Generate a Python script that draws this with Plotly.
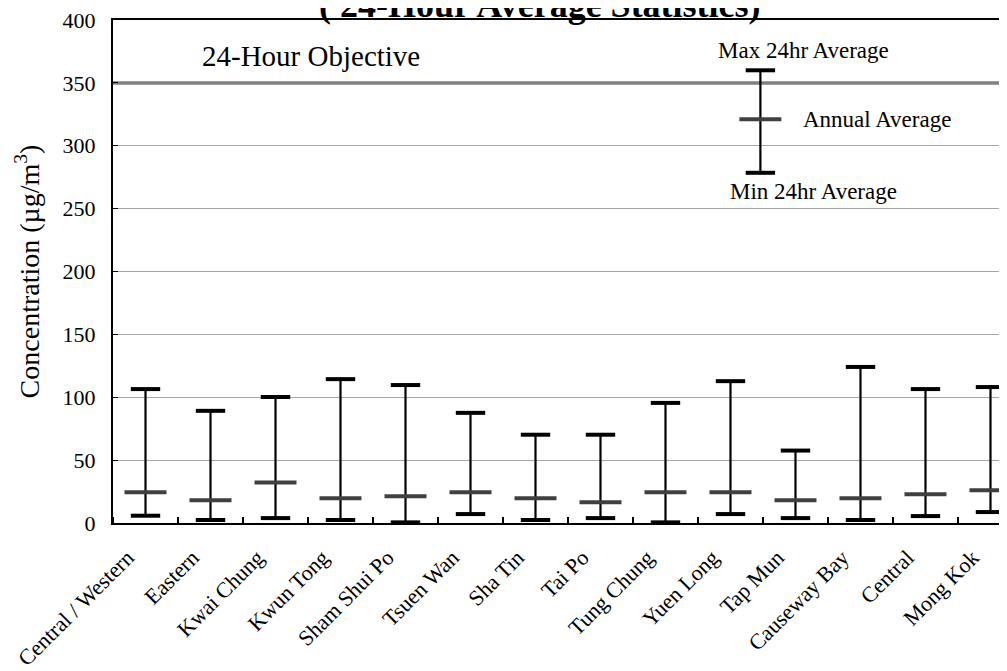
import plotly.graph_objects as go

stations = ["Central / Western", "Eastern", "Kwai Chung", "Kwun Tong", "Sham Shui Po",
            "Tsuen Wan", "Sha Tin", "Tai Po", "Tung Chung", "Yuen Long", "Tap Mun",
            "Causeway Bay", "Central", "Mong Kok"]
max_24hr = [106.5, 89.2, 100.2, 114.4, 109.7, 87.6, 70.2, 70.2, 95.5, 112.8, 57.6, 124.1, 106.5, 108.1]
annual_avg = [24.5, 18.1, 32.3, 19.7, 21.3, 24.5, 19.7, 16.6, 24.5, 24.5, 18.1, 19.7, 22.9, 26.0]
min_24hr = [5.8, 2.4, 3.9, 2.4, 0.5, 7.1, 2.4, 3.9, 0.5, 7.1, 3.9, 2.4, 5.5, 8.7]

objective_value = 350
objective_label = "24-Hour Objective"

legend_max = 360
legend_avg = 321
legend_min = 278.5
legend_labels = ["Max 24hr Average", "Annual Average", "Min 24hr Average"]

y_ticks = [0, 50, 100, 150, 200, 250, 300, 350, 400]

xs = list(range(len(stations)))
legend_x = 9.46

FONT = "Liberation Serif"

fig = go.Figure()

# objective line
fig.add_trace(go.Scatter(x=[-0.5, 13.6], y=[objective_value, objective_value], mode="lines",
                         line=dict(color="#808080", width=3.5), hoverinfo="skip", showlegend=False))

all_x = xs + [legend_x]
all_max = max_24hr + [legend_max]
all_avg = annual_avg + [legend_avg]
all_min = min_24hr + [legend_min]

# whiskers (vertical lines)
fig.add_trace(go.Scatter(
    x=all_x, y=all_min, mode="markers", marker=dict(size=1, color="rgba(0,0,0,0)"),
    error_y=dict(type="data", symmetric=False,
                 array=[mx - mn for mx, mn in zip(all_max, all_min)],
                 arrayminus=[0] * len(all_x), width=0, thickness=2.2, color="black"),
    showlegend=False, hoverinfo="skip"))

# caps
fig.add_trace(go.Scatter(x=all_x, y=all_max, mode="markers",
                         marker=dict(symbol="line-ew", size=21, line=dict(width=4, color="black")),
                         showlegend=False))
fig.add_trace(go.Scatter(x=all_x, y=all_min, mode="markers",
                         marker=dict(symbol="line-ew", size=21, line=dict(width=4, color="black")),
                         showlegend=False))
# annual average
fig.add_trace(go.Scatter(x=all_x, y=all_avg, mode="markers",
                         marker=dict(symbol="line-ew", size=30, line=dict(width=4, color="#404040")),
                         showlegend=False))

ann_font = dict(family=FONT, size=23, color="black")
fig.add_annotation(x=10.13, y=375.5, text=legend_labels[0], showarrow=False, font=ann_font,
                   xanchor="center", yanchor="middle")
fig.add_annotation(x=10.08, y=legend_avg, text=legend_labels[1], showarrow=False, font=ann_font,
                   xanchor="left", yanchor="middle")
fig.add_annotation(x=10.28, y=263.5, text=legend_labels[2], showarrow=False, font=ann_font,
                   xanchor="center", yanchor="middle")
fig.add_annotation(x=2.54, y=371, text=objective_label, showarrow=False,
                   font=dict(family=FONT, size=29, color="black"), xanchor="center", yanchor="middle")

# title (top cut off as in the original)
fig.add_annotation(xref="paper", yref="paper", x=(540 - 113) / 894, y=1, yshift=15,
                   text="<b>( 24-Hour Average Statistics)</b>", showarrow=False,
                   font=dict(family=FONT, size=36, color="black"), xanchor="center", yanchor="middle")

fig.update_layout(
    width=999, height=663,
    margin=dict(l=105, r=0, t=9, b=139),
    paper_bgcolor="white", plot_bgcolor="white",
    font=dict(family=FONT, color="black"),
    showlegend=False,
)
fig.update_xaxes(
    range=[-0.5, 13.254], tickmode="array", tickvals=xs, ticktext=stations,
    tickangle=-45, tickfont=dict(family=FONT, size=22), ticks="",
    ticklabelshift=-18, ticklabelstandoff=11,
    showline=True, linecolor="black", linewidth=2, mirror=True,
    showgrid=False, zeroline=False,
    minor=dict(tickmode="linear", tick0=0.5, dtick=1, ticks="inside", ticklen=6,
               tickcolor="black", tickwidth=1.5, showgrid=False),
)
fig.update_yaxes(
    range=[0, 400], tickmode="array", tickvals=y_ticks,
    tickfont=dict(family=FONT, size=22), ticks="inside", ticklen=5, tickcolor="black",
    ticklabelstandoff=11, ticklabeloverflow="allow",
    showline=True, linecolor="black", linewidth=2,
    showgrid=True, gridcolor="#a6a6a6", gridwidth=1, zeroline=False,
    title=dict(text="Concentration (µg/m<sup>3</sup>)", font=dict(family=FONT, size=28), standoff=15),
)

fig.write_html("out.html")
